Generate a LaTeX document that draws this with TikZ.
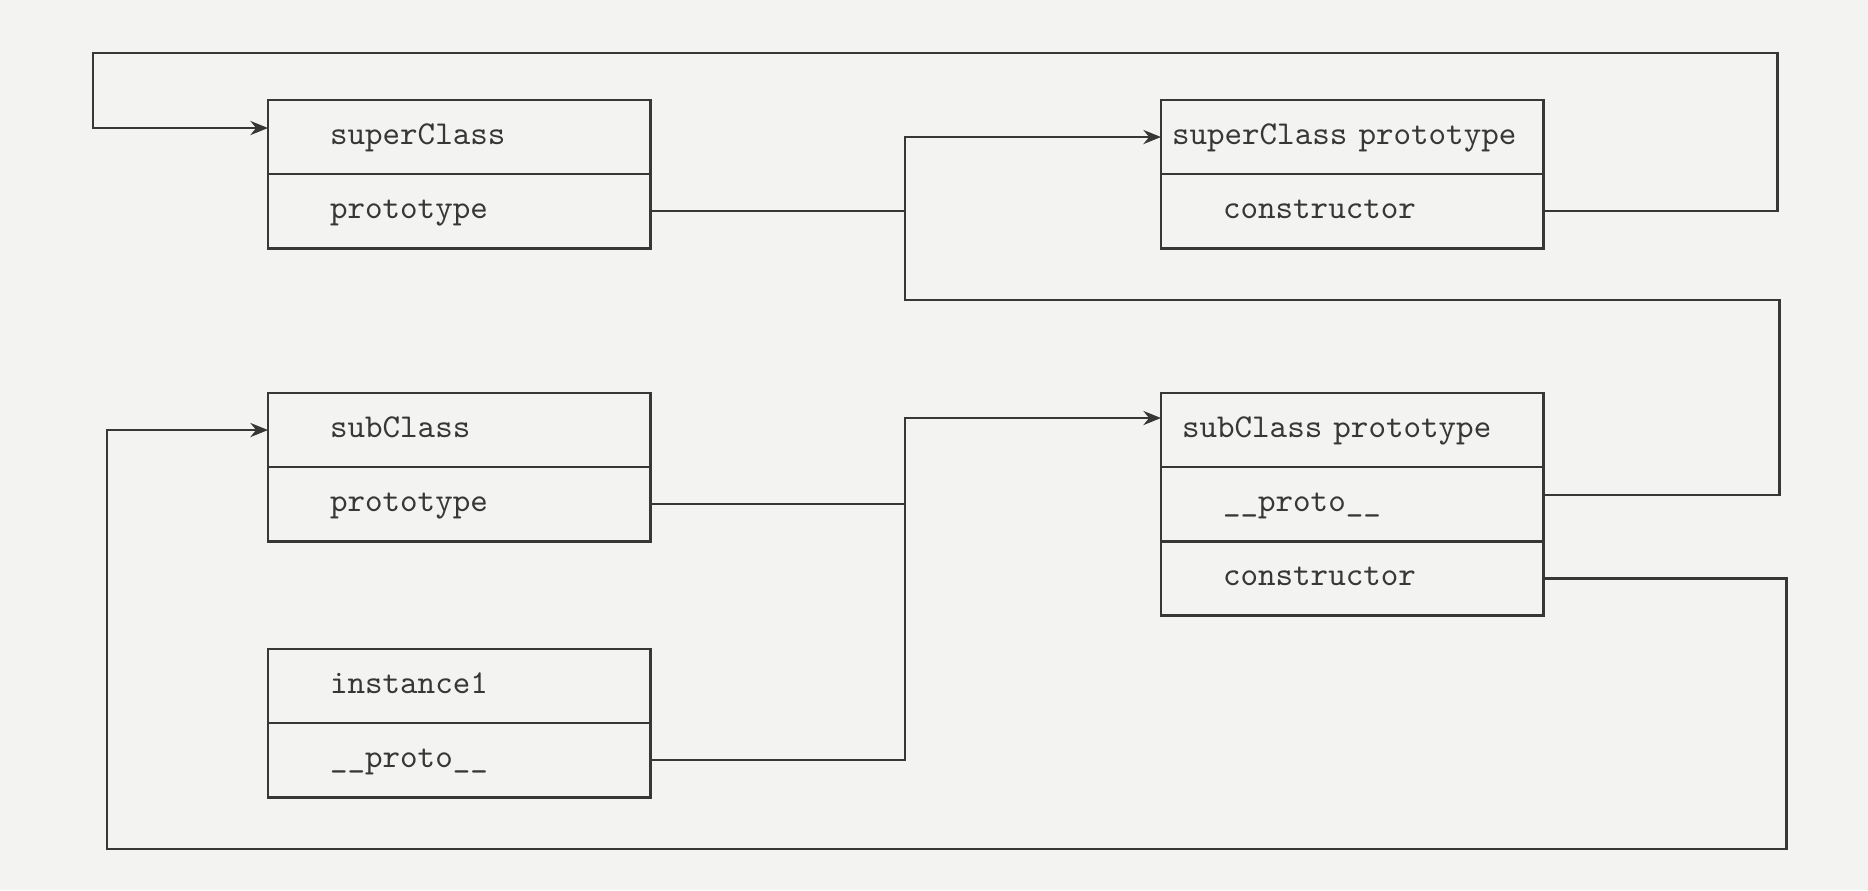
\documentclass[tikz,border=0pt]{standalone}
\usepackage{fontspec}
\usetikzlibrary{positioning, arrows.meta}
\definecolor{paper}{RGB}{243,243,241}
\definecolor{ink}{RGB}{55,55,55}

\begin{document}
\begin{tikzpicture}[x=0.01cm, y=-0.01cm,
        row/.style={draw=ink, line width=0.8pt, inner xsep=0pt, inner ysep=0pt, outer sep=0pt, text width=3.82cm, minimum height=0.74cm, align=left, text=ink, font=\fontsize{9.5}{11}\selectfont\ttfamily, execute at begin node={\strut\hspace*{#1}}},
        row/.default=0.62cm,
        wire/.style={draw=ink, line width=0.8pt},
        link/.style={wire, -{Stealth[length=5pt, width=4pt]}}]
            \fill[paper] (0,0) rectangle (1868,890);
            \useasboundingbox (0,0) rectangle (1868,890);

            \node[row, anchor=north west] (sc) at (268,100) {superClass};
            \node[row, below=0pt of sc] (scproto) {prototype};

            \node[row=0.11cm, anchor=north west] (scp) at (1161,100) {superClass prototype};
            \node[row, below=0pt of scp] (scpcons) {constructor};

            \node[row, anchor=north west] (sub) at (268,393) {subClass};
            \node[row, below=0pt of sub] (subproto) {prototype};

            \node[row, anchor=north west] (ins) at (268,649) {instance1};
            \node[row, below=0pt of ins] (insproto) {\_\_proto\_\_};

            \node[row=0.21cm, anchor=north west] (subp) at (1161,393) {subClass prototype};
            \node[row, below=0pt of subp] (subpproto) {\_\_proto\_\_};
            \node[row, below=0pt of subpproto] (subpcons) {constructor};

            \coordinate (bus1) at (905,300);
            \coordinate (bus2) at (905,760);

            \draw[wire] (scproto.east) -- (scproto.east -| bus1);
            \draw[link] ([yshift=0.09cm]subpproto.east) -- ++(236,0) |- (bus1) |- (scp.west);
            \draw[link] (scpcons.east) -- ++(234,0) |- (93,53) |- ([yshift=0.09cm]sc.west);
            \draw[wire] (subproto.east) -- (subproto.east -| bus2);
            \draw[link] (insproto.east) -- (insproto.east -| bus2) |- ([yshift=0.12cm]subp.west);
            \draw[link] (subpcons.east) -- ++(243,0) |- (107,849) |- (sub.west);
        \end{tikzpicture}
\end{document}
